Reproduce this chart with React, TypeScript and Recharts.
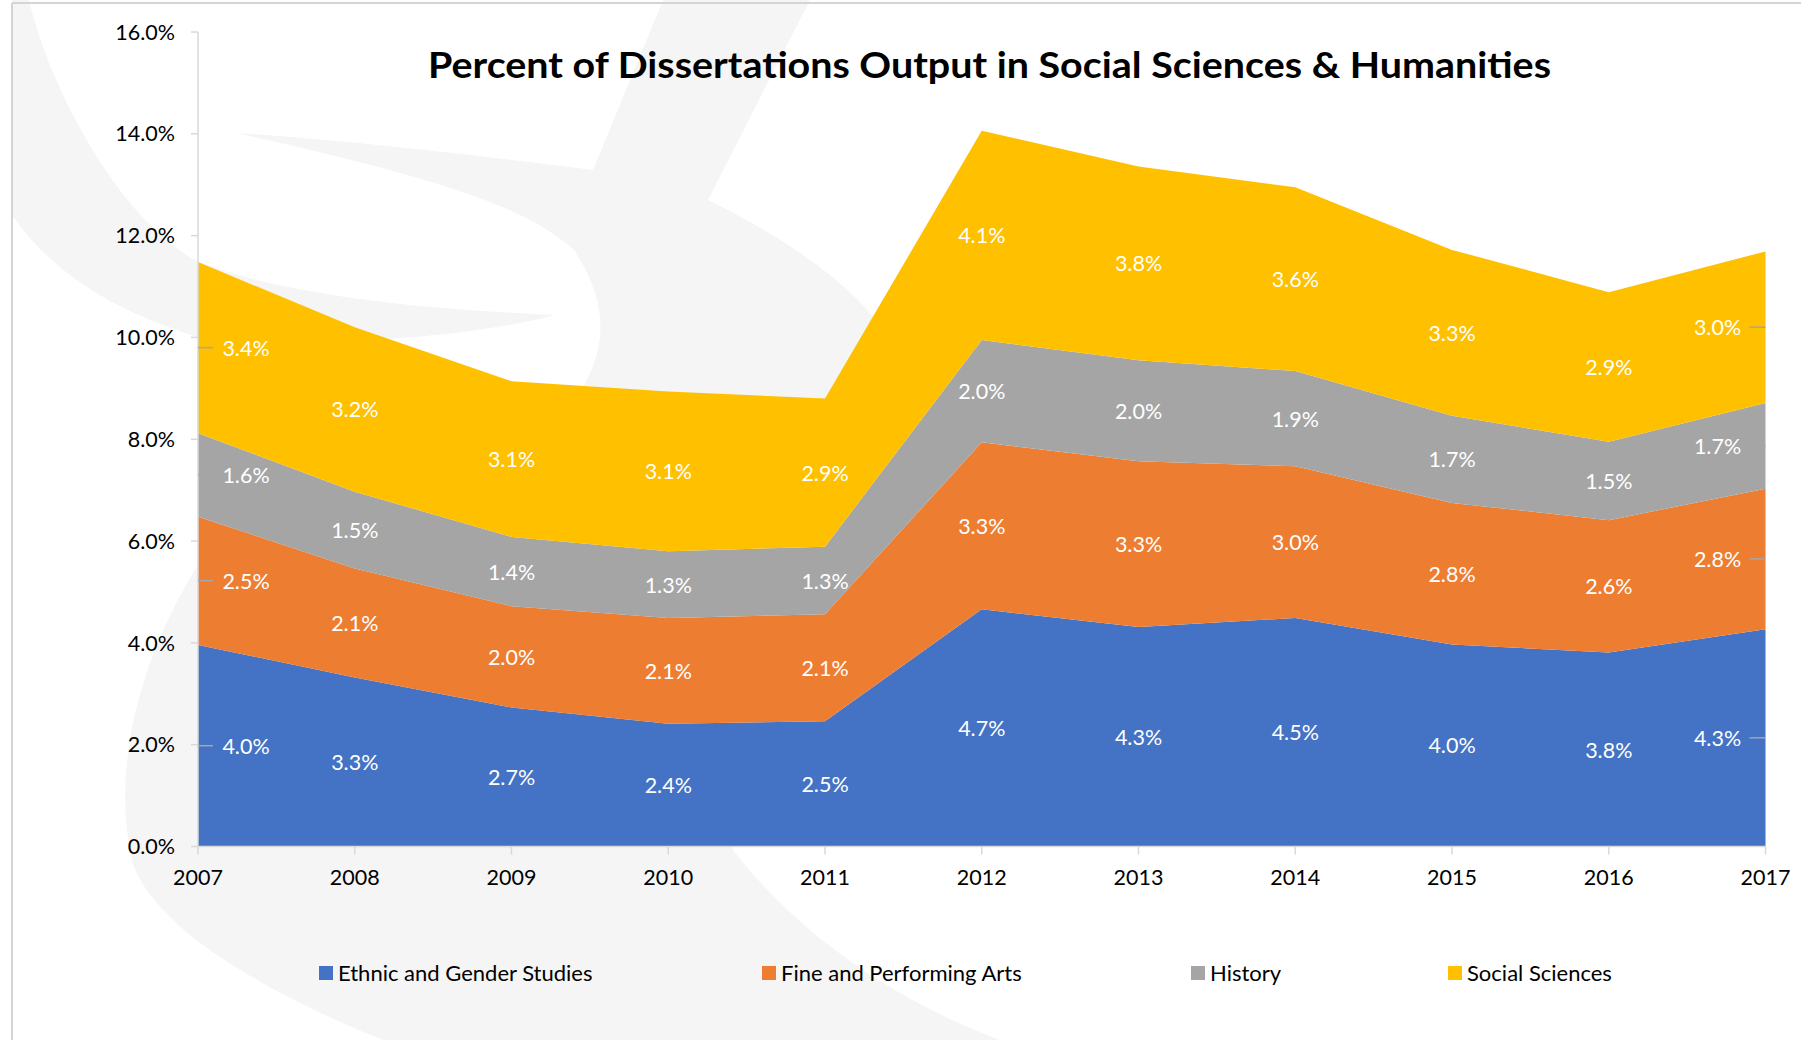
import React from "react";
import { ComposedChart, Area, Line, XAxis, YAxis } from "recharts";

const years = ["2007", "2008", "2009", "2010", "2011", "2012", "2013", "2014", "2015", "2016", "2017"];
const ethnicGender = [3.96, 3.32, 2.73, 2.41, 2.46, 4.66, 4.31, 4.49, 3.97, 3.81, 4.27];
const finePerforming = [2.52, 2.14, 1.99, 2.08, 2.1, 3.28, 3.26, 2.98, 2.78, 2.6, 2.76];
const history = [1.64, 1.51, 1.36, 1.31, 1.33, 2.01, 1.98, 1.87, 1.71, 1.54, 1.68];
const socialSciences = [3.36, 3.23, 3.06, 3.14, 2.91, 4.11, 3.81, 3.61, 3.26, 2.94, 2.98];

const seriesNames = ["Ethnic and Gender Studies", "Fine and Performing Arts", "History", "Social Sciences"];
const seriesKeys = ["ethnic", "fine", "history", "social"];
const seriesColors = ["#4472C4", "#ED7D31", "#A5A5A5", "#FFC000"];
const seriesValues = [ethnicGender, finePerforming, history, socialSciences];
const yTicks = [0, 2, 4, 6, 8, 10, 12, 14, 16];

const chartTitle = "Percent of Dissertations Output in Social Sciences & Humanities";
const FONT = "Lato, 'Open Sans', sans-serif";

// stacked values plus the middle of each band (for the data labels)
const data = years.map((year, i) => {
    const row: Record<string, string | number> = { year };
    let base = 0;
    seriesValues.forEach((vals, s) => {
        row[seriesKeys[s]] = vals[i];
        row[seriesKeys[s] + "Mid"] = base + vals[i] / 2;
        base += vals[i];
    });
    return row;
});

const makeLabel = (vals: number[], key: string) => (props: any) => {
    const { cx, cy, index } = props;
    const last = years.length - 1;
    let tx = cx;
    let lead: React.ReactNode = null;
    if (index === 0) {
        tx = cx + 48;
        lead = <line x1={cx} x2={cx + 15} y1={cy} y2={cy} stroke="#a6a6a6" strokeWidth={1.5} />;
    } else if (index === last) {
        tx = cx - 48;
        lead = <line x1={cx - 16} x2={cx} y1={cy} y2={cy} stroke="#a6a6a6" strokeWidth={1.5} />;
    }
    return (
        <g key={`${key}-lbl-${index}`}>
            {lead}
            <text x={tx} y={cy} textAnchor="middle" dominantBaseline="central" fill="#ffffff" fontSize={21.5} fontFamily={FONT}>
                {`${vals[index].toFixed(1)}%`}
            </text>
        </g>
    );
};

const legendX = [319, 762, 1191, 1448];

const Watermark = () => (
    <svg width={1801} height={1040} style={{ position: "absolute", left: 0, top: 0 }}>
        {/* faint logo swirl behind the chart */}
        <path d="M12,0 L29,0 C50,90 120,220 198,262 C300,300 450,310 555,315 C480,335 330,350 198,337 C110,310 50,270 12,215 Z" fill="#f5f5f5" />
        <path d="M236,133 C350,140 500,158 593,170 L663,0 L810,0 L708,200 C790,240 860,290 890,340 L900,420 L560,420 C600,370 620,320 574,250 C530,210 450,180 236,133 Z" fill="#f5f5f5" />
        <path d="M230,520 C150,620 105,760 134,867 C160,930 260,990 383,1040 L1000,1040 C893,1000 797,933 733,850 C690,760 680,640 700,520 Z" fill="#f5f5f5" />
        <line x1={12} y1={3} x2={1801} y2={3} stroke="#d4d4d4" strokeWidth={2} />
        <line x1={12} y1={3} x2={12} y2={1040} stroke="#d4d4d4" strokeWidth={2} />
    </svg>
);

const Overlay = () => (
    <svg width={1801} height={1040} style={{ position: "absolute", left: 0, top: 0, pointerEvents: "none" }}>
        <text x={989.5} y={78} textAnchor="middle" fontFamily={FONT} fontWeight="bold" fontSize={37} fill="#000" textLength={1123} lengthAdjust="spacingAndGlyphs">
            {chartTitle}
        </text>
        {seriesNames.map((name, i) => (
            <g key={name}>
                <rect x={legendX[i]} y={966} width={14} height={14} fill={seriesColors[i]} />
                <text x={legendX[i] + 19} y={981} fontFamily={FONT} fontSize={22} fill="#000">
                    {name}
                </text>
            </g>
        ))}
    </svg>
);

export default function App() {
    return (
        <div style={{ position: "absolute", left: 0, top: 0, width: 1801, height: 1040, background: "#fff", fontFamily: FONT }}>
            <Watermark />
            <div style={{ position: "absolute", left: 0, top: 0 }}>
                <ComposedChart width={1801} height={1040} data={data} margin={{ top: 32, right: 35.5, left: 0, bottom: 153.5 }}>
                    <XAxis
                        dataKey="year"
                        scale="point"
                        padding={{ left: 0, right: 0 }}
                        height={40}
                        tickSize={8}
                        tickMargin={15}
                        axisLine={{ stroke: "#d9d9d9", strokeWidth: 1.5 }}
                        tickLine={{ stroke: "#d9d9d9", strokeWidth: 1.5 }}
                        tick={{ fill: "#000", fontSize: 21.5, fontFamily: FONT }}
                    />
                    <YAxis
                        domain={[0, 16]}
                        ticks={yTicks}
                        width={198}
                        tickSize={7}
                        tickMargin={16}
                        tickFormatter={(v: number) => `${v.toFixed(1)}%`}
                        axisLine={{ stroke: "#d9d9d9", strokeWidth: 1.5 }}
                        tickLine={{ stroke: "#d9d9d9", strokeWidth: 1.5 }}
                        tick={{ fill: "#000", fontSize: 21.5, fontFamily: FONT }}
                    />
                    {seriesKeys.map((k, s) => (
                        <Area
                            key={k}
                            type="linear"
                            dataKey={k}
                            name={seriesNames[s]}
                            stackId="1"
                            fill={seriesColors[s]}
                            fillOpacity={1}
                            stroke="none"
                            isAnimationActive={false}
                        />
                    ))}
                    {seriesKeys.map((k, s) => (
                        <Line
                            key={k + "Mid"}
                            type="linear"
                            dataKey={k + "Mid"}
                            stroke="none"
                            dot={makeLabel(seriesValues[s], k)}
                            activeDot={false}
                            legendType="none"
                            isAnimationActive={false}
                        />
                    ))}
                </ComposedChart>
            </div>
            <Overlay />
        </div>
    );
}
